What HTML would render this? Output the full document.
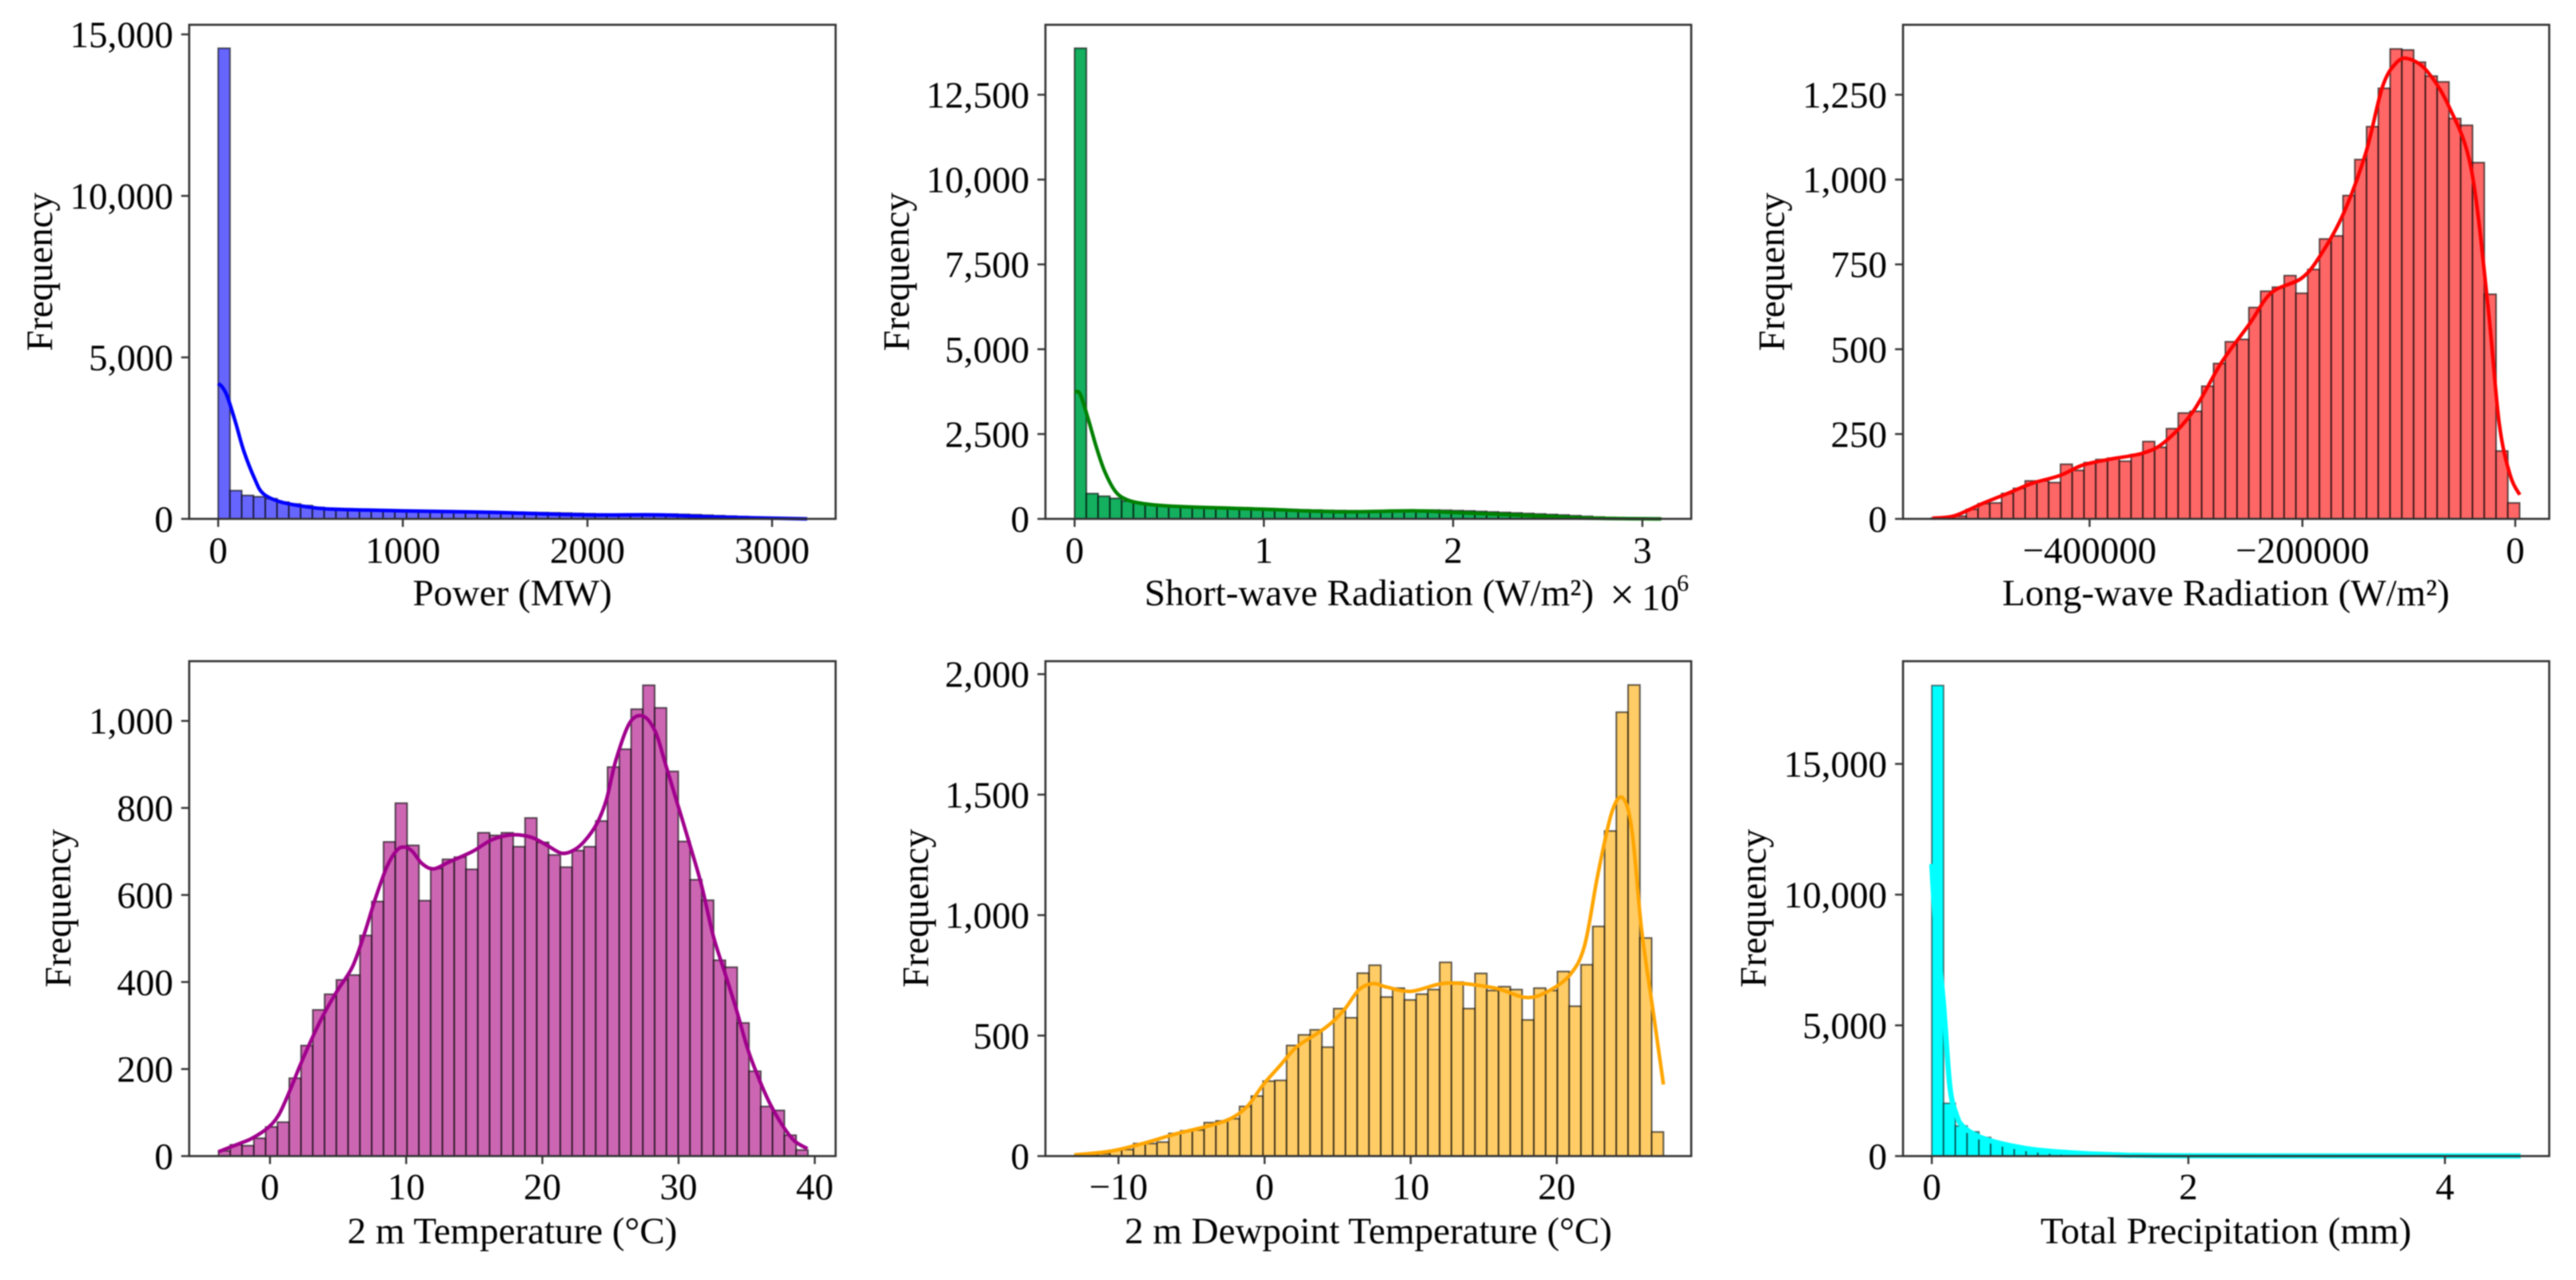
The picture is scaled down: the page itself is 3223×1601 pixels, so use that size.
<!DOCTYPE html>
<html lang="en">
<head>
<meta charset="utf-8">
<title>Distribution histograms</title>
<style>
html,body{margin:0;padding:0;background:#fff;}
body{width:3223px;height:1601px;overflow:hidden;}
svg{display:block;filter:blur(0.9px);}
text{font-family:"Liberation Serif","Times New Roman",serif;font-size:47px;fill:#000;}
</style>
</head>
<body>
<svg id="figure" xmlns="http://www.w3.org/2000/svg" width="3223" height="1601" viewBox="0 0 3223 1601">
  <rect width="3223" height="1601" fill="#ffffff"/>
  <g id="panel-power">
    <text x="641" y="757" text-anchor="middle">Power (MW)</text>
    <text transform="translate(65,340) rotate(-90)" text-anchor="middle">Frequency</text>
  </g>
  <g id="panel-short">
    <text x="1713" y="757" text-anchor="middle">Short-wave Radiation (W/m²)</text>
    <text x="2014" y="762" style="font-size:55px">×</text>
    <text x="2054" y="763">10</text>
    <text x="2098" y="739" style="font-size:30px">6</text>
    <text transform="translate(1137,340) rotate(-90)" text-anchor="middle">Frequency</text>
  </g>
  <g id="panel-long">
    <text x="2785" y="757" text-anchor="middle">Long-wave Radiation (W/m²)</text>
    <text transform="translate(2232,340) rotate(-90)" text-anchor="middle">Frequency</text>
  </g>
  <g id="panel-temp">
    <text x="641" y="1555" text-anchor="middle">2 m Temperature (°C)</text>
    <text transform="translate(88,1136) rotate(-90)" text-anchor="middle">Frequency</text>
  </g>
  <g id="panel-dew">
    <text x="1712" y="1555" text-anchor="middle">2 m Dewpoint Temperature (°C)</text>
    <text transform="translate(1161,1136) rotate(-90)" text-anchor="middle">Frequency</text>
  </g>
  <g id="panel-precip">
    <text x="2785" y="1555" text-anchor="middle">Total Precipitation (mm)</text>
    <text transform="translate(2209,1136) rotate(-90)" text-anchor="middle">Frequency</text>
  </g>
</svg>
<script>
// ---- Power ----
const powerCounts = [14570,875,726,685,627,520,462,412,355,313,290,285,280,275,270,268,262,258,255,250,245,235,225,218,212,205,200,195,188,180,170,160,150,145,140,138,142,145,148,140,130,115,100,85,70,55,40,28,15,6];
const powerKdeX = [0,21,50,95,139,199,243,332,481,629,1000,1490,1994,2380,2677,3190];
const powerKdeY = [4190,4090,3780,2968,2095,1222,786,536,374,299,249,200,125,125,62,0];
const powerXTicks = [0,1000,2000,3000];
const powerYTicks = [0,5000,10000,15000];
const powerBinRange = [0,3190];

// ---- Short-wave radiation (x in units of 1e6) ----
const shortCounts = [13870,746,668,605,526,471,425,400,385,370,360,350,340,330,320,305,295,285,275,265,260,250,245,240,235,235,240,245,250,255,260,255,245,235,220,205,190,175,160,145,130,115,95,75,55,40,28,18,10,4];
const shortKdeX = [0,0.029,0.072,0.115,0.159,0.216,0.274,0.361,0.534,0.996,1.40,1.80,2.0,2.41,2.70,3.10];
const shortKdeY = [3740,3680,2944,2113,1400,807,570,451,368,285,210,237,190,95,24,0];
const shortXTicks = [0,1,2,3];
const shortYTicks = [0,2500,5000,7500,10000,12500];
const shortBinRange = [0,3.11];

// ---- Long-wave radiation ----
const longCounts = [2,5,8,28,45,47,75,90,112,112,107,161,143,166,175,179,170,190,228,211,266,312,317,391,458,522,529,623,671,683,717,665,735,825,834,953,1059,1156,1269,1385,1382,1346,1305,1288,1180,1160,1050,662,200,47];
const longKdeX = [-547800,-526900,-500800,-474700,-453800,-427700,-406800,-380700,-349400,-328500,-302400,-276200,-250100,-229300,-200500,-182200,-161400,-140500,-124800,-111800,-100300,-83000,-62100,-41300,-25600,-15100,-4700,4200];
const longKdeY = [2,9,45,78,105,128,158,176,194,229,318,460,573,666,710,781,900,1078,1273,1344,1356,1320,1214,1030,626,282,128,71];
const longXTicks = [-400000,-200000,0];
const longYTicks = [0,250,500,750,1000,1250];
const longBinRange = [-549000,4100];

// ---- 2 m temperature ----
const tempCounts = [12,26,24,41,67,78,179,254,336,372,405,416,507,585,722,811,714,587,661,682,687,659,743,737,743,711,777,721,692,664,702,711,770,894,935,1027,1082,1030,884,723,635,588,450,434,306,195,114,105,48,14];
const tempKdeX = [-3.78,-2.22,-1.37,-0.23,0.63,1.48,2.19,3.05,3.9,4.9,6.04,6.89,7.75,8.6,9.32,9.89,10.46,11.17,12.02,13.16,14.87,16.3,17.72,19.15,20.3,21.4,22.3,23.1,24.0,24.7,25.4,26.4,27.4,28.3,29.0,29.83,30.83,31.68,32.54,33.4,34.25,35.1,36.0,36.8,37.66,38.5,39.46];
const tempKdeY = [10,29,40,63,94,152,207,268,323,378,434,507,593,666,703,710,700,672,660,676,700,727,738,733,715,696,703,724,764,819,910,995,1011,975,905,819,715,623,507,421,336,244,170,115,69,35,17];
const tempXTicks = [0,10,20,30,40];
const tempYTicks = [0,200,400,600,800,1000];
const tempBinRange = [-3.78,39.5];

// ---- 2 m dewpoint ----
const dewCounts = [3,5,10,24,27,52,52,58,94,105,108,139,146,155,206,249,311,314,459,503,524,452,612,574,759,792,660,697,648,672,691,804,722,612,758,687,703,691,565,697,687,766,622,794,953,1349,1842,1955,905,100];
const dewKdeX = [-13.02,-10.58,-8.33,-6.08,-3.83,-2.33,-1.2,-0.08,1.05,2.18,3.68,4.62,5.55,6.49,7.43,8.37,10.06,12.5,15.7,17.9,19.4,20.9,21.9,22.8,23.75,24.5,25.14,25.8,26.6,27.3];
const dewKdeY = [5,20,52,92,125,155,205,297,375,452,512,555,615,692,716,701,684,718,698,658,684,752,873,1165,1423,1487,1354,942,598,297];
const dewXTicks = [-10,0,10,20];
const dewYTicks = [0,500,1000,1500,2000];
const dewBinRange = [-13.0,27.3];

// ---- Total precipitation ----
const precipCounts = [18000,2018,1152,927,713,520,408,326,255,204,163,130,102,82,50,30,20,12,8,6,4,3,2,2,1,1,1,1,1,1,0,0,0,0,0,0,0,0,0,0,0,0,0,0,0,0,0,0,0,0];
const precipKdeX = [0,0.02,0.05,0.09,0.14,0.19,0.25,0.42,0.74,1.07,1.4,2.05,4.59];
const precipKdeY = [11170,9500,7800,5900,2700,1610,1100,642,285,131,52,10,5];
const precipXTicks = [0,2,4];
const precipYTicks = [0,5000,10000,15000];
const precipBinRange = [0,4.595];

const SVG_NS = 'http://www.w3.org/2000/svg';

function xScale(p, v) { return p.xZeroPx + v * p.xPerUnit; }
function yScale(p, v) { return p.bottom - v * p.yPerUnit; }

function fmtY(v) { return v.toLocaleString('en-US'); }
function fmtX(v) { return String(v).replace('-', '\u2212'); }

function smoothPath(pts) {
  let d = 'M' + pts[0][0].toFixed(2) + ' ' + pts[0][1].toFixed(2);
  for (let i = 0; i < pts.length - 1; i++) {
    const p0 = pts[Math.max(0, i - 1)];
    const p1 = pts[i];
    const p2 = pts[i + 1];
    const p3 = pts[Math.min(pts.length - 1, i + 2)];
    const c1x = p1[0] + (p2[0] - p0[0]) / 6;
    const c1y = p1[1] + (p2[1] - p0[1]) / 6;
    const c2x = p2[0] - (p3[0] - p1[0]) / 6;
    const c2y = p2[1] - (p3[1] - p1[1]) / 6;
    d += 'C' + c1x.toFixed(2) + ' ' + c1y.toFixed(2) + ' ' + c2x.toFixed(2) + ' ' + c2y.toFixed(2) + ' ' + p2[0].toFixed(2) + ' ' + p2[1].toFixed(2);
  }
  return d;
}

function drawPanel(p) {
  const g = document.getElementById(p.id);

  const n = p.counts.length;
  const binW = (p.binRange[1] - p.binRange[0]) / n;
  const barsG = document.createElementNS(SVG_NS, 'g');
  
  
  g.appendChild(barsG);
  p.counts.forEach(function (c, i) {
    const x0 = xScale(p, p.binRange[0] + i * binW);
    const x1 = xScale(p, p.binRange[0] + (i + 1) * binW);
    const y0 = yScale(p, c);
    const r = document.createElementNS(SVG_NS, 'rect');
    
    
    r.setAttribute('x', x0);
    r.setAttribute('y', y0);
    r.setAttribute('width', x1 - x0);
    r.setAttribute('height', p.bottom - y0);
    r.setAttribute('fill', p.fill);
    r.setAttribute('stroke', p.edge);
    r.setAttribute('stroke-width', '2');
    barsG.appendChild(r);
  });

  const frame = document.createElementNS(SVG_NS, 'rect');
  
  
  frame.setAttribute('x', p.left);
  frame.setAttribute('y', p.top);
  frame.setAttribute('width', p.right - p.left);
  frame.setAttribute('height', p.bottom - p.top);
  frame.setAttribute('fill', 'none');
  frame.setAttribute('stroke', '#333');
  frame.setAttribute('stroke-width', '2.6');

  const pts = p.kdeX.map(function (v, i) { return [xScale(p, v), yScale(p, p.kdeY[i])]; });
  const line = document.createElementNS(SVG_NS, 'path');
  
  
  line.setAttribute('d', smoothPath(pts));
  line.setAttribute('fill', 'none');
  line.setAttribute('stroke', p.line);
  line.setAttribute('stroke-width', p.lineWidth);
  line.setAttribute('stroke-linejoin', 'round');
  g.appendChild(line);
  g.appendChild(frame);

  p.xTicks.forEach(function (v) {
    const x = xScale(p, v);
    const t = document.createElementNS(SVG_NS, 'line');
    
    
    t.setAttribute('x1', x);
    t.setAttribute('x2', x);
    t.setAttribute('y1', p.bottom);
    t.setAttribute('y2', p.bottom + 10);
    t.setAttribute('stroke', '#333');
    t.setAttribute('stroke-width', '2.4');
    g.appendChild(t);
    const lab = document.createElementNS(SVG_NS, 'text');
    
    
    lab.setAttribute('x', x);
    lab.setAttribute('y', p.bottom + p.xLabelGap);
    lab.setAttribute('text-anchor', 'middle');
    lab.textContent = fmtX(v);
    g.appendChild(lab);
  });

  p.yTicks.forEach(function (v) {
    const y = yScale(p, v);
    const t = document.createElementNS(SVG_NS, 'line');
    
    
    t.setAttribute('x1', p.left - 10);
    t.setAttribute('x2', p.left);
    t.setAttribute('y1', y);
    t.setAttribute('y2', y);
    t.setAttribute('stroke', '#333');
    t.setAttribute('stroke-width', '2.4');
    g.appendChild(t);
    const lab = document.createElementNS(SVG_NS, 'text');
    
    
    lab.setAttribute('x', p.left - 20);
    lab.setAttribute('y', y + 16);
    lab.setAttribute('text-anchor', 'end');
    lab.textContent = fmtY(v);
    g.appendChild(lab);
  });
}

const EDGE = 'rgba(0,0,0,0.62)';

drawPanel({ id:'panel-power', key:'power', left:236.7, right:1045.5, top:31, bottom:649, xLabelGap:55,
  xZeroPx:273, xPerUnit:0.231, yPerUnit:0.0404,
  counts:powerCounts, binRange:powerBinRange, kdeX:powerKdeX, kdeY:powerKdeY, xTicks:powerXTicks, yTicks:powerYTicks,
  fill:'#6666ff', edge:EDGE, line:'#0000ff', lineWidth:4.5 });

drawPanel({ id:'panel-short', key:'short-wave', left:1308, right:2116, top:31, bottom:649, xLabelGap:55,
  xZeroPx:1344.5, xPerUnit:236.8, yPerUnit:0.04244,
  counts:shortCounts, binRange:shortBinRange, kdeX:shortKdeX, kdeY:shortKdeY, xTicks:shortXTicks, yTicks:shortYTicks,
  fill:'#14af5f', edge:EDGE, line:'#008000', lineWidth:4.5 });

drawPanel({ id:'panel-long', key:'long-wave', left:2381, right:3189.5, top:31, bottom:649, xLabelGap:55,
  xZeroPx:3147, xPerUnit:0.0013315, yPerUnit:0.4244,
  counts:longCounts, binRange:longBinRange, kdeX:longKdeX, kdeY:longKdeY, xTicks:longXTicks, yTicks:longYTicks,
  fill:'#ff6666', edge:EDGE, line:'#ff0000', lineWidth:4.5 });

drawPanel({ id:'panel-temp', key:'temperature', left:236.7, right:1045.5, top:827, bottom:1446, xLabelGap:54,
  xZeroPx:337.8, xPerUnit:17.04, yPerUnit:0.5443,
  counts:tempCounts, binRange:tempBinRange, kdeX:tempKdeX, kdeY:tempKdeY, xTicks:tempXTicks, yTicks:tempYTicks,
  fill:'#cc66b3', edge:EDGE, line:'#a0008c', lineWidth:4.5 });

drawPanel({ id:'panel-dew', key:'dewpoint', left:1308, right:2116, top:827, bottom:1446, xLabelGap:54,
  xZeroPx:1582.2, xPerUnit:18.28, yPerUnit:0.3014,
  counts:dewCounts, binRange:dewBinRange, kdeX:dewKdeX, kdeY:dewKdeY, xTicks:dewXTicks, yTicks:dewYTicks,
  fill:'#ffcc66', edge:EDGE, line:'#ffa500', lineWidth:4.5 });

drawPanel({ id:'panel-precip', key:'precipitation', left:2381, right:3189.5, top:827, bottom:1446, xLabelGap:54,
  xZeroPx:2417, xPerUnit:160.5, yPerUnit:0.0327,
  counts:precipCounts, binRange:precipBinRange, kdeX:precipKdeX, kdeY:precipKdeY, xTicks:precipXTicks, yTicks:precipYTicks,
  fill:'#00ffff', edge:'rgba(0,0,0,0.5)', line:'#00ffff', lineWidth:6.5 });
</script>
</body>
</html>
